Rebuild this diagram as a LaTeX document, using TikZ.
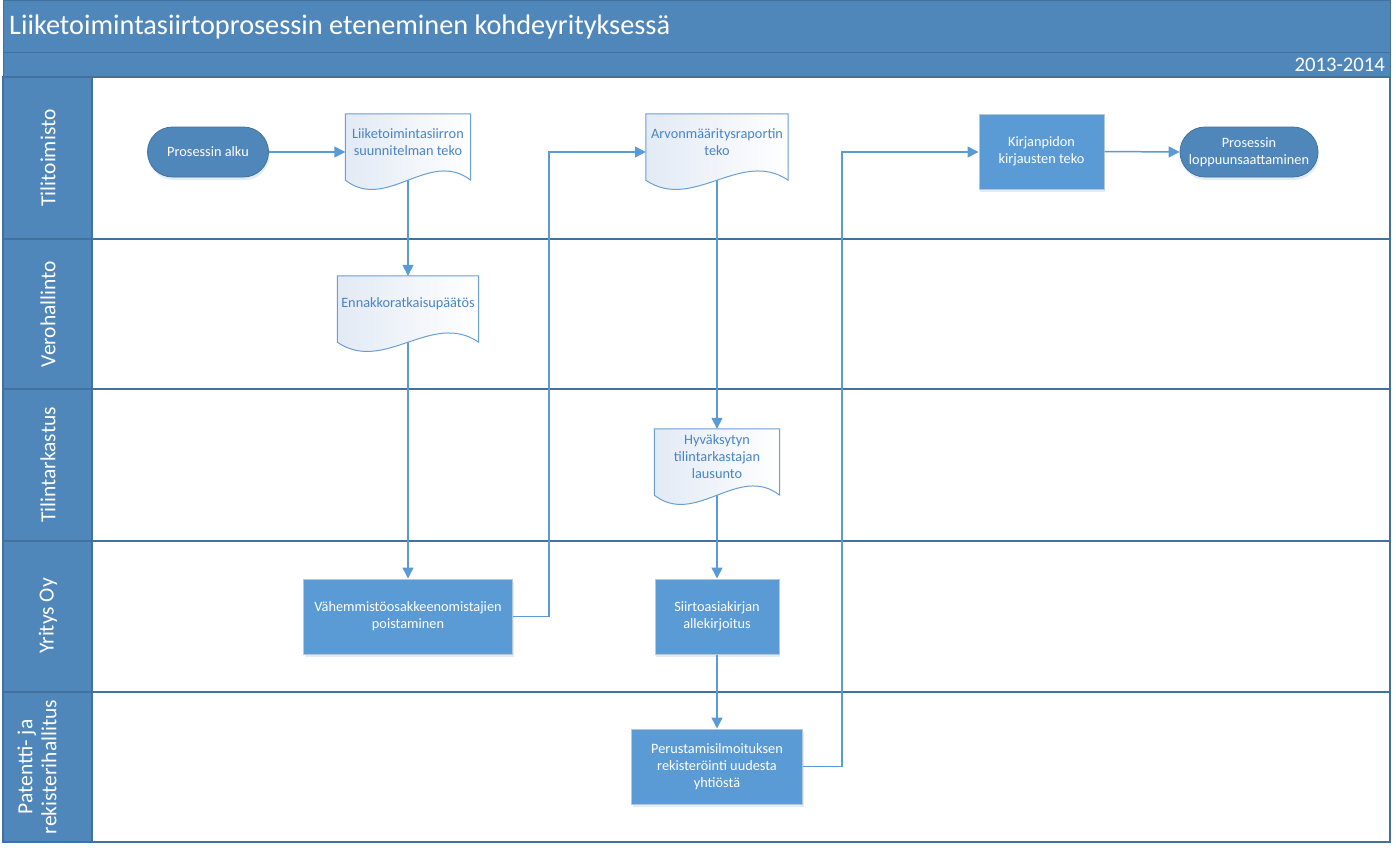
\documentclass[tikz,border=0pt]{standalone}
\usepackage{fontspec}
\setmainfont{Carlito}
\usetikzlibrary{calc,arrows.meta,shapes.misc,shadows}
\definecolor{hdr}{HTML}{4F87BB}
\definecolor{hdrb}{HTML}{41719C}
\definecolor{proc}{HTML}{5B9BD5}
\definecolor{procb}{HTML}{B4C7DC}
\definecolor{conn}{HTML}{5B9BD5}
\definecolor{doctext}{HTML}{4A84C4}
\definecolor{docb}{HTML}{6A9FD4}
\definecolor{docfill}{HTML}{E2EAF5}
\newcommand\docshape[1]{%
  \path[docdraw] (#1.north west) -- (#1.north east) -- ($(#1.south east)+(0,10)$)
    .. controls ($(#1.south east)!0.33!(#1.south west)+(0,-22)$) and ($(#1.south west)!0.33!(#1.south east)+(0,42)$)
    .. ($(#1.south west)+(0,10)$) -- cycle;
  \node[doctxt] at (#1.center) {\csname doctext#1\endcsname};}
\begin{document}
\begin{tikzpicture}[x=1pt,y=-1pt,
  nodefont/.style={font=\fontsize{14.3}{17}\selectfont},
  lanelabel/.style={rotate=90,text=white,font=\fontsize{21.5}{24}\selectfont,align=center,inner sep=0},
  term/.style={rounded rectangle,fill=hdr,draw=hdrb,line width=0.8,text=white,nodefont,align=center,minimum height=50,inner sep=2,
     drop shadow={opacity=0.18,shadow xshift=1pt,shadow yshift=-3pt,fill=proc}},
  proc/.style={rectangle,fill=proc,draw=procb,line width=1,text=white,nodefont,align=center,minimum height=75,inner sep=2,
     drop shadow={opacity=0.18,shadow xshift=1pt,shadow yshift=-3pt,fill=proc}},
  doc/.style={rectangle,draw=none,text=doctext,nodefont,align=center,minimum height=56,inner sep=0},
  doctxt/.style={text=doctext,nodefont,align=center,inner sep=0},
  docdraw/.style={draw=docb,line width=1,left color=docfill,right color=white},
  sep/.style={draw=hdrb,line width=1.4},
  flow/.style={draw=conn,line width=1.5,-{Triangle[length=11pt,width=11pt]}},
]
\useasboundingbox (0,0) rectangle (1396,854);
\fill[white] (0,0) rectangle (1396,854);
% header
\filldraw[fill=hdr,draw=hdrb,line width=1] (3,0) rectangle (1390,52);
\filldraw[fill=hdr,draw=hdrb,line width=1] (3,52) rectangle (1390,77);
\node[anchor=west,text=white,font=\fontsize{28.3}{33}\selectfont,inner sep=0] (ttl) at (9,27) {Liiketoimintasiirtoprosessin eteneminen kohdeyrityksessä};
\node[anchor=east,text=white,font=\fontsize{20.7}{24}\selectfont,inner sep=0] (yr) at (1385,65) {2013-2014};
% lanes
\fill[hdr] (3,77) rectangle (92,842);
\draw[sep] (3,77) rectangle (1390,842);
\draw[sep] (92,77) -- (92,842);
\draw[sep] (3,239) -- (1390,239);
\draw[sep] (3,389) -- (1390,389);
\draw[sep,line width=2] (3,541) -- (1390,541);
\draw[sep] (3,692) -- (1390,692);
\node[lanelabel] (l1) at (48,158) {Tilitoimisto};
\node[lanelabel] (l2) at (48,314) {Verohallinto};
\node[lanelabel] (l3) at (48,465) {Tilintarkastus};
\node[lanelabel] (l4) at (48,616) {Yritys Oy};
\node[lanelabel] (l5) at (37,767) {Patentti- ja\\rekisterihallitus};
% nodes
\node[term,minimum width=125] (start) at (208,152) {Prosessin alku};
\node[term,minimum width=142] (end) at (1249,152) {Prosessin\\loppuunsaattaminen};
\node[doc,minimum width=125] (d1) at (408,142) {};
\node[doc,minimum width=141] (d2) at (408,304) {};
\node[doc,minimum width=142] (d3) at (717,142) {};
\node[doc,minimum width=125] (d4) at (717,457) {};
\node[proc,minimum width=209] (p1) at (408,616.5) {Vähemmistöosakkeenomistajien\\poistaminen};
\node[proc,minimum width=124] (p2) at (717,616.5) {Siirtoasiakirjan\\allekirjoitus};
\node[proc,minimum width=171] (p3) at (717,766.5) {Perustamisilmoituksen\\rekisteröinti uudesta\\yhtiöstä};
\node[proc,minimum width=125] (p4) at (1041.5,151.5) {Kirjanpidon\\kirjausten teko};
\coordinate (j1) at (549,152);
\coordinate (j2) at (842,152);
% connectors
\draw[flow] (start.east) -- (start.east -| d1.west);
\draw[flow] (d1.south) -- (d2.north);
\draw[flow] (d2.south) -- (p1.north);
\draw[flow] (p1.east) -| (j1) -- (j1 -| d3.west);
\draw[flow] (d3.south) -- (d4.north);
\draw[flow] (d4.south) -- (p2.north);
\draw[flow] (p2.south) -- (p3.north);
\draw[flow] (p3.east) -| (j2) -- (j2 -| p4.west);
\draw[flow] (p4.east) -- (end.west);
\expandafter\def\csname doctextd1\endcsname{Liiketoimintasiirron\\suunnitelman teko}
\expandafter\def\csname doctextd2\endcsname{Ennakkoratkaisupäätös}
\expandafter\def\csname doctextd3\endcsname{Arvonmääritysraportin\\teko}
\expandafter\def\csname doctextd4\endcsname{Hyväksytyn\\tilintarkastajan\\lausunto}
\docshape{d1}
\docshape{d2}
\docshape{d3}
\docshape{d4}
\end{tikzpicture}
\end{document}
